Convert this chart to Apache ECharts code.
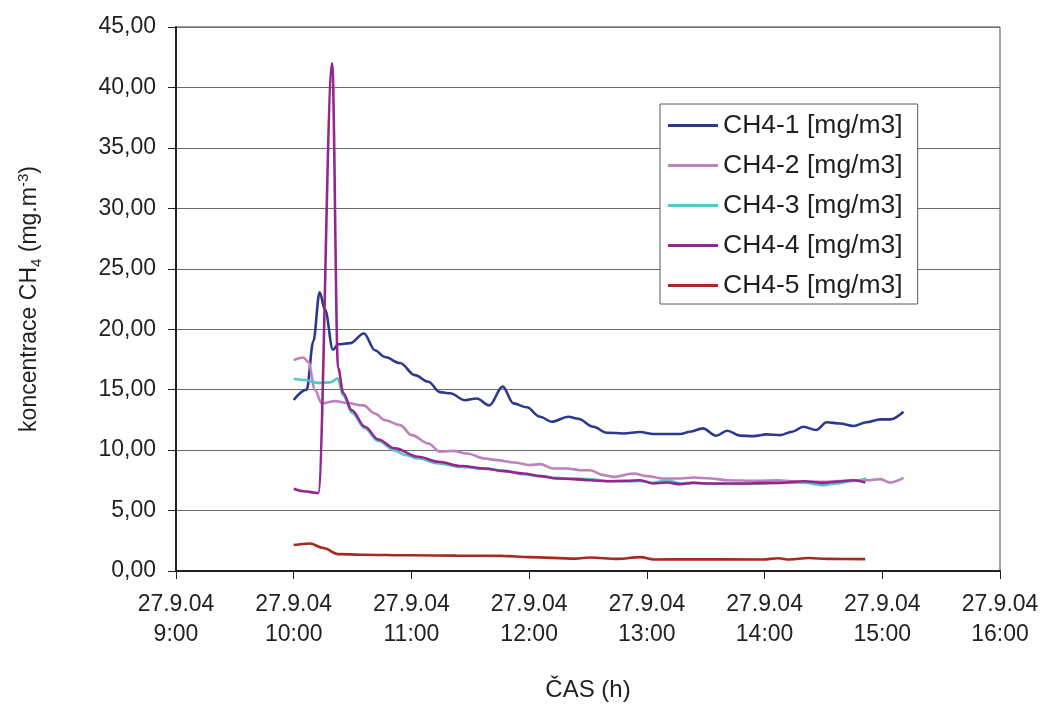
<!DOCTYPE html>
<html>
<head>
<meta charset="utf-8">
<script src="https://cdn.jsdelivr.net/npm/echarts@6/dist/echarts.min.js"></script>
<style>
html,body{margin:0;padding:0;background:#fff;}
#c{width:1044px;height:707px;}
</style>
</head>
<body>
<div id="c"></div>
<script>
// Times are minutes after 27.9.04 10:00
const seriesNames = ['CH4-1 [mg/m3]', 'CH4-2 [mg/m3]', 'CH4-3 [mg/m3]', 'CH4-4 [mg/m3]', 'CH4-5 [mg/m3]'];
const xTickHours = [9, 10, 11, 12, 13, 14, 15, 16];
const xTickDate = '27.9.04';

const ch41T = [0, 6.6, 10, 13.2, 16, 20, 22.7, 28.7, 35.8, 41.4, 46.5, 54.2, 61.8, 68.6, 74.6, 79.7, 87.3, 93.3, 99.7, 106.5, 112, 118.8, 125.6, 131.5, 140, 145, 152.7, 159.6, 168, 176.5, 183.3, 190, 197, 202, 208.5, 215.3, 221, 227.5, 234.3, 241.1, 248, 254, 259.8, 266.3, 271.7, 278.5, 285.3, 292, 299, 304, 310.8];
const ch41V = [14.15, 15.0, 19.0, 23.05, 21.6, 18.3, 18.76, 18.85, 19.65, 18.26, 17.7, 17.2, 16.2, 15.65, 14.8, 14.7, 14.13, 14.27, 13.7, 15.25, 13.87, 13.54, 12.76, 12.35, 12.76, 12.6, 11.93, 11.44, 11.38, 11.5, 11.33, 11.33, 11.33, 11.52, 11.8, 11.19, 11.6, 11.2, 11.16, 11.3, 11.24, 11.52, 11.93, 11.66, 12.3, 12.2, 12.0, 12.3, 12.54, 12.54, 13.18];

const ch42T = [0, 4.9, 7.4, 10.9, 14.3, 21, 27, 35.5, 41.4, 46.5, 54.2, 60.2, 68.6, 74.6, 81.4, 88.2, 97.5, 103.5, 112, 120.5, 125.6, 132.3, 139.2, 146, 151, 157.8, 163, 173, 180, 188.4, 197, 203.7, 212.5, 221, 236.3, 246.5, 258.3, 270, 282, 292, 299, 304, 310.8];
const ch42V = [17.44, 17.66, 17.3, 14.96, 13.86, 14.05, 13.9, 13.7, 13.03, 12.48, 12.07, 11.24, 10.55, 9.86, 9.94, 9.72, 9.3, 9.17, 8.98, 8.76, 8.84, 8.48, 8.48, 8.34, 8.34, 7.93, 7.79, 8.07, 7.85, 7.65, 7.65, 7.73, 7.65, 7.51, 7.46, 7.51, 7.38, 7.38, 7.46, 7.51, 7.6, 7.32, 7.7];

const ch43T = [0, 5.8, 12.5, 18.5, 22.4, 25.3, 29.6, 36.3, 43.1, 51.6, 57, 63.5, 73.7, 85.6, 97.5, 106.9, 117, 125.6, 134, 142.5, 151, 159.6, 169.8, 176.5, 183.3, 190.2, 197, 203.7, 212.5, 227.5, 241, 248, 260, 270, 276.5, 285.3, 292];
const ch43V = [15.9, 15.8, 15.56, 15.6, 15.92, 14.5, 13.1, 11.8, 10.75, 9.95, 9.6, 9.3, 8.9, 8.6, 8.45, 8.3, 8.0, 7.85, 7.7, 7.65, 7.6, 7.45, 7.4, 7.45, 7.3, 7.5, 7.25, 7.3, 7.2, 7.2, 7.25, 7.3, 7.3, 7.1, 7.25, 7.45, 7.65];

const ch44T = [0, 5, 12.5, 19.6, 22.6, 25.3, 29.6, 36.3, 43.1, 51.6, 63.5, 73.7, 85.6, 97.5, 106.9, 117, 125.6, 134, 142.5, 151, 159.6, 169.8, 176.5, 183.3, 190.2, 197, 203.7, 212.5, 227.5, 241, 248, 260, 270, 276.5, 285.3, 291.3];
const ch44V = [6.8, 6.6, 6.45, 42.0, 16.8, 14.7, 13.3, 11.93, 10.88, 10.14, 9.45, 9.04, 8.68, 8.48, 8.26, 8.07, 7.85, 7.65, 7.6, 7.51, 7.43, 7.46, 7.51, 7.24, 7.32, 7.18, 7.29, 7.24, 7.24, 7.29, 7.29, 7.43, 7.29, 7.38, 7.51, 7.32];

const ch45T = [0, 8.2, 15, 22.8, 34.5, 59.8, 83, 106.6, 120, 143.6, 151, 165, 176.7, 183.5, 200, 239, 247, 252.7, 262.4, 272, 291.3];
const ch45V = [2.15, 2.28, 1.9, 1.4, 1.35, 1.3, 1.27, 1.25, 1.15, 1.02, 1.12, 1.0, 1.15, 0.95, 0.97, 0.95, 1.05, 0.95, 1.07, 1.0, 0.98];

const colors = ['#2b3a8f', '#bf80c0', '#55c6c4', '#92288f', '#a8291f'];

function pts(t, v) { return t.map((m, i) => [10 + m / 60, v[i]]); }
const allT = [ch41T, ch42T, ch43T, ch44T, ch45T];
const allV = [ch41V, ch42V, ch43V, ch44V, ch45V];

const FONT = '"Liberation Sans", Arial, sans-serif';
const chart = echarts.init(document.getElementById('c'), null, {renderer: 'canvas'});
chart.setOption({
  animation: false,
  backgroundColor: '#ffffff',
  color: colors,
  grid: {left: 176, right: 44, top: 27, bottom: 136, show: true, borderColor: '#4a4a4a', borderWidth: 1},
  legend: {
    orient: 'vertical', left: 660, top: 104,
    padding: [8, 15, 5, 8],
    itemWidth: 50, itemHeight: 3, itemGap: 13, icon: 'rect',
    backgroundColor: '#ffffff', borderColor: '#5a5a5a', borderWidth: 1,
    textStyle: {fontFamily: FONT, fontSize: 26.5, color: '#231f20', lineHeight: 27},
    data: seriesNames
  },
  xAxis: {
    type: 'value', min: 9, max: 16, interval: 1,
    name: 'ČAS (h)', nameLocation: 'middle', nameGap: 107,
    nameTextStyle: {fontFamily: FONT, fontSize: 24, color: '#231f20'},
    axisLine: {show: true, lineStyle: {color: '#231f20', width: 2}},
    axisTick: {show: true, inside: false, length: 8, lineStyle: {color: '#231f20', width: 1}},
    axisLabel: {
      margin: 19, fontFamily: FONT, fontSize: 23, color: '#231f20', lineHeight: 30,
      formatter: v => xTickDate + '\n' + v + ':00'
    },
    splitLine: {show: false}
  },
  yAxis: {
    type: 'value', min: 0, max: 45, interval: 5,
    name: '{n|koncentrace CH}{sub|4}{n| (mg.m}{sup|-3}{n|)}', nameLocation: 'middle', nameGap: 130, nameRotate: 90,
    nameTextStyle: {
      fontFamily: FONT, fontSize: 23, color: '#231f20',
      rich: {
        n: {fontFamily: FONT, fontSize: 23, color: '#231f20', lineHeight: 32, verticalAlign: 'middle'},
        sub: {fontFamily: FONT, fontSize: 15, color: '#231f20', lineHeight: 32, verticalAlign: 'bottom', padding: [0, 0, 2, 0]},
        sup: {fontFamily: FONT, fontSize: 15, color: '#231f20', lineHeight: 32, verticalAlign: 'top', padding: [2, 0, 0, 0]}
      }
    },
    axisLine: {show: true, lineStyle: {color: '#231f20', width: 2}},
    axisTick: {show: true, inside: false, length: 8, lineStyle: {color: '#231f20', width: 1}},
    axisLabel: {
      margin: 20, fontFamily: FONT, fontSize: 23, color: '#231f20',
      formatter: v => v.toFixed(2).replace('.', ',')
    },
    splitLine: {show: true, lineStyle: {color: '#6d6d6d', width: 1.2}}
  },
  series: seriesNames.map((n, i) => ({
    name: n, type: 'line',
    data: pts(allT[i], allV[i]),
    showSymbol: false, symbol: 'none',
    smooth: 0.35, smoothMonotone: 'x',
    lineStyle: {width: 2.6, color: colors[i]},
    itemStyle: {color: colors[i]},
    z: 2 + i
  }))
});
</script>
</body>
</html>
